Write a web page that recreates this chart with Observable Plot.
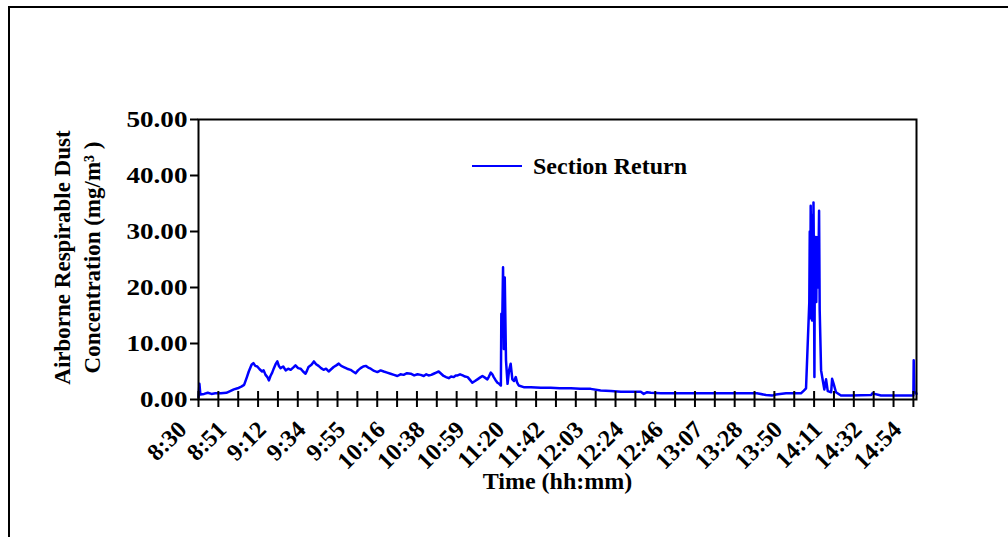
<!DOCTYPE html>
<html><head><meta charset="utf-8">
<script src="https://cdn.jsdelivr.net/npm/d3@7"></script>
<script src="https://cdn.jsdelivr.net/npm/@observablehq/plot@0.6"></script>
<style>
html,body{margin:0;padding:0;background:#fff;overflow:hidden;}
#wrap{position:relative;width:1008px;height:537px;overflow:hidden;}
#border{position:absolute;left:8px;top:6px;width:1100px;height:700px;border:2px solid #000;box-sizing:border-box;}
#chart{position:absolute;left:0;top:0;}
</style></head><body>
<div id="wrap"><div id="border"></div><div id="chart"></div></div>
<script>
const seriesName = "Section Return";
const xTitle = "Time (hh:mm)";
const yTitleLines = ["Airborne Respirable Dust", "Concentration (mg/m³ )"];
const startClock = "8:30:00";
const endClock = "14:55:40";
const tickLabels = ["8:30","8:51","9:12","9:34","9:55","10:16","10:38","10:59","11:20","11:42","12:03","12:24","12:46","13:07","13:28","13:50","14:11","14:32","14:54"];
const yTicks = [0, 10, 20, 30, 40, 50];

const times = [
"8:30:00","8:30:30","8:31:00","8:33:00","8:35:00","8:37:00","8:39:00","8:42:00","8:45:00","8:47:00",
"8:49:00","8:51:00","8:53:00","8:54:30","8:56:00","8:57:00","8:58:30","8:59:30","9:00:30","9:01:35",
"9:02:50","9:04:10","9:05:00","9:06:00","9:07:00","9:07:50","9:08:40","9:09:35","9:10:30","9:11:25",
"9:12:20","9:13:10","9:14:05","9:15:30","9:16:50","9:18:10","9:19:30","9:20:50","9:22:05","9:23:30",
"9:24:50","9:26:10","9:27:30","9:28:20","9:29:05","9:30:40","9:32:00","9:33:10","9:34:30","9:35:50",
"9:37:10","9:38:30","9:39:55","9:41:15","9:42:35","9:44:00","9:45:20","9:46:40","9:48:00","9:49:50",
"9:51:40","9:53:00","9:54:25","9:55:40","9:57:05","9:58:30","9:59:50","10:01:10","10:02:30","10:04:20",
"10:06:05","10:07:50","10:09:30","10:11:20","10:13:10","10:15:00","10:16:50","10:18:30","10:20:10","10:22:00",
"10:24:00","10:25:50","10:27:40","10:29:20","10:31:00","10:32:20","10:33:35","10:35:00","10:36:20","10:37:40",
"10:39:00","10:40:20","10:41:40","10:43:00","10:44:25","10:45:40","10:47:05","10:48:10","10:49:10","10:50:30",
"10:51:55","10:53:10","10:54:35","10:55:50","10:57:05","10:58:30","10:59:50","11:01:10","11:02:30","11:03:50",
"11:05:10","11:06:00","11:07:00","11:07:50","11:08:35","11:09:30","11:10:35","11:11:30","11:12:25","11:12:40",
"11:13:05","11:13:35","11:14:00","11:14:30","11:15:10","11:16:00","11:16:50","11:17:40","11:18:35","11:19:30",
"11:20:25","11:21:10","11:22:00","11:24:40","11:28:30","11:33:55","11:39:10","11:44:00","11:50:00","11:55:00",
"12:00:40","12:06:00","12:11:30","12:16:55","12:22:00","12:27:35","12:29:10","12:31:00","12:33:00","12:38:25",
"12:49:05","12:59:55","13:10:35","13:21:25","13:30:00","13:34:50","13:38:00","13:40:10","13:45:35","13:53:35",
"13:55:10","13:56:20","13:58:05","13:58:20","13:58:35","13:58:50","13:59:05","13:59:20","13:59:35","13:59:50",
"14:00:05","14:00:20","14:00:35","14:00:50","14:01:05","14:01:20","14:01:35","14:01:50","14:02:05","14:02:20",
"14:02:35","14:02:50","14:03:05","14:03:20","14:03:40","14:04:25","14:05:20","14:06:10","14:07:05","14:08:00",
"14:09:50","14:10:20","14:11:10","14:12:25","14:15:05","14:20:30","14:31:20","14:32:00","14:36:35","14:47:25",
"14:52:50","14:54:00","14:54:10","14:54:30","14:55:25","14:55:40"
];
const dust = [
0.4,2.8,0.9,1.0,1.2,1.0,1.1,1.1,1.2,1.5,
1.8,2.0,2.3,2.6,4.0,5.0,6.2,6.5,6.0,5.9,
5.4,5.0,5.2,4.4,4.0,3.4,4.2,4.8,5.6,6.3,
6.8,6.0,5.6,5.9,5.2,5.5,5.3,5.7,6.1,5.6,
5.5,5.0,4.6,5.2,5.8,6.2,6.8,6.3,6.0,5.6,
5.3,5.5,5.0,5.4,5.8,6.1,6.4,6.0,5.8,5.5,
5.3,5.0,4.7,5.2,5.6,5.9,6.0,5.7,5.5,5.1,
4.9,5.2,5.0,4.8,4.6,4.4,4.2,4.5,4.4,4.7,
4.6,4.3,4.5,4.4,4.2,4.5,4.3,4.4,4.6,4.8,
5.0,4.6,4.2,4.0,3.8,4.1,4.0,4.3,4.3,4.5,
4.3,4.1,4.0,3.5,3.0,3.3,3.6,3.9,4.2,3.9,
3.6,4.1,4.8,4.5,4.0,3.5,3.0,2.8,2.5,15.3,
12.0,23.6,9.0,21.8,7.0,2.8,5.2,6.4,3.6,3.3,
4.0,3.0,2.5,2.2,2.2,2.1,2.1,2.0,2.0,1.9,
1.9,1.6,1.5,1.4,1.4,1.4,1.0,1.3,1.2,1.1,
1.1,1.1,1.1,1.1,1.1,0.8,0.7,0.9,1.1,1.1,
1.6,2.0,17.4,30.0,14.5,34.6,20.0,33.0,14.1,28.0,
17.0,35.2,24.0,4.0,28.5,20.0,29.0,17.4,27.0,22.0,
29.0,20.0,26.0,33.7,16.0,5.2,3.4,1.8,3.6,1.5,
1.3,3.7,2.8,1.3,0.7,0.7,0.8,1.1,0.7,0.7,
0.7,0.7,7.0,1.3,1.2,1.0
];

function mins(s){const p=s.split(":").map(Number);return p[0]*60+p[1]+(p[2]||0)/60;}
const t0 = mins(startClock);
const data = times.map((s,i)=>({t: mins(s)-t0, v: dust[i]}));
const n = tickLabels.length;
const first = mins(tickLabels[0]) - t0;
const last = mins(tickLabels[n-1]) - t0;
const step = (last-first)/(n-1);
const labelData = tickLabels.map((l,i)=>({t: first+i*step, label: l}));
const tickPos = [];
for (let i=0;i<n;i++){ tickPos.push(first+i*step); if(i<n-1) tickPos.push(first+(i+0.5)*step); }

const font = "'Liberation Serif', 'Times New Roman', serif";
const fs = 23;

const svg = Plot.plot({
  width: 1008, height: 537,
  marginLeft: 198, marginRight: 92, marginTop: 119, marginBottom: 138,
  style: {fontFamily: font, fontWeight: "bold", fontSize: fs+"px", color: "black", background: "transparent", overflow: "visible"},
  x: {domain: [0, mins(endClock)-t0]},
  y: {domain: [0, 50]},
  marks: [
    Plot.line(data, {x: "t", y: "v", stroke: "#0000ff", strokeWidth: 2.5}),
    Plot.frame({stroke: "black", strokeWidth: 2}),
    Plot.axisY({ticks: yTicks, tickFormat: d => d.toFixed(2), tickSize: 8, tickPadding: 3, strokeWidth: 2, fontSize: fs, fontWeight: "bold", label: null}),
    Plot.axisX({ticks: tickPos, tickSize: 16, dy: -8, tickFormat: () => "", strokeWidth: 2, label: null}),
    Plot.text(labelData, {x: "t", text: "label", frameAnchor: "bottom", rotate: -45, textAnchor: "end", lineAnchor: "middle", dx: -16, dy: 26, fontSize: 24, fontWeight: "bold", fill: "black"}),
    Plot.text([xTitle], {frameAnchor: "bottom", dy: 82, lineAnchor: "middle", fontSize: 24, fontWeight: "bold", fill: "black"}),
    Plot.text([yTitleLines.join("\n")], {frameAnchor: "left", dx: -123, dy: -2, rotate: -90, lineAnchor: "middle", textAnchor: "middle", lineHeight: 1.3, fontSize: fs, fontWeight: "bold", fill: "black"})
  ]
});

// widen the y tick labels slightly to match the reference glyph proportions
d3.select(svg).selectAll('g[aria-label="y-axis tick label"] text').each(function(){
  const el = d3.select(this);
  const tr = el.attr("transform");
  if (tr) el.attr("transform", tr + " scale(1.18,1)");
  else {
    const x = +el.attr("x") || 0, y = +el.attr("y") || 0;
    el.attr("x", null).attr("y", null).attr("transform", `translate(${x},${y}) scale(1.18,1)`);
  }
});

// legend inside the plot area
const g = d3.select(svg).append("g").attr("text-anchor", "start");
g.append("line").attr("x1", 472).attr("x2", 522).attr("y1", 166).attr("y2", 166).attr("stroke", "#0000ff").attr("stroke-width", 2);
g.append("text").attr("x", 533).attr("y", 166).attr("dy", "0.35em").attr("text-anchor", "start").attr("font-size", 24).attr("font-weight", "bold").attr("font-family", font).attr("fill", "black").text(seriesName);

document.getElementById("chart").appendChild(svg);
</script>
</body></html>
